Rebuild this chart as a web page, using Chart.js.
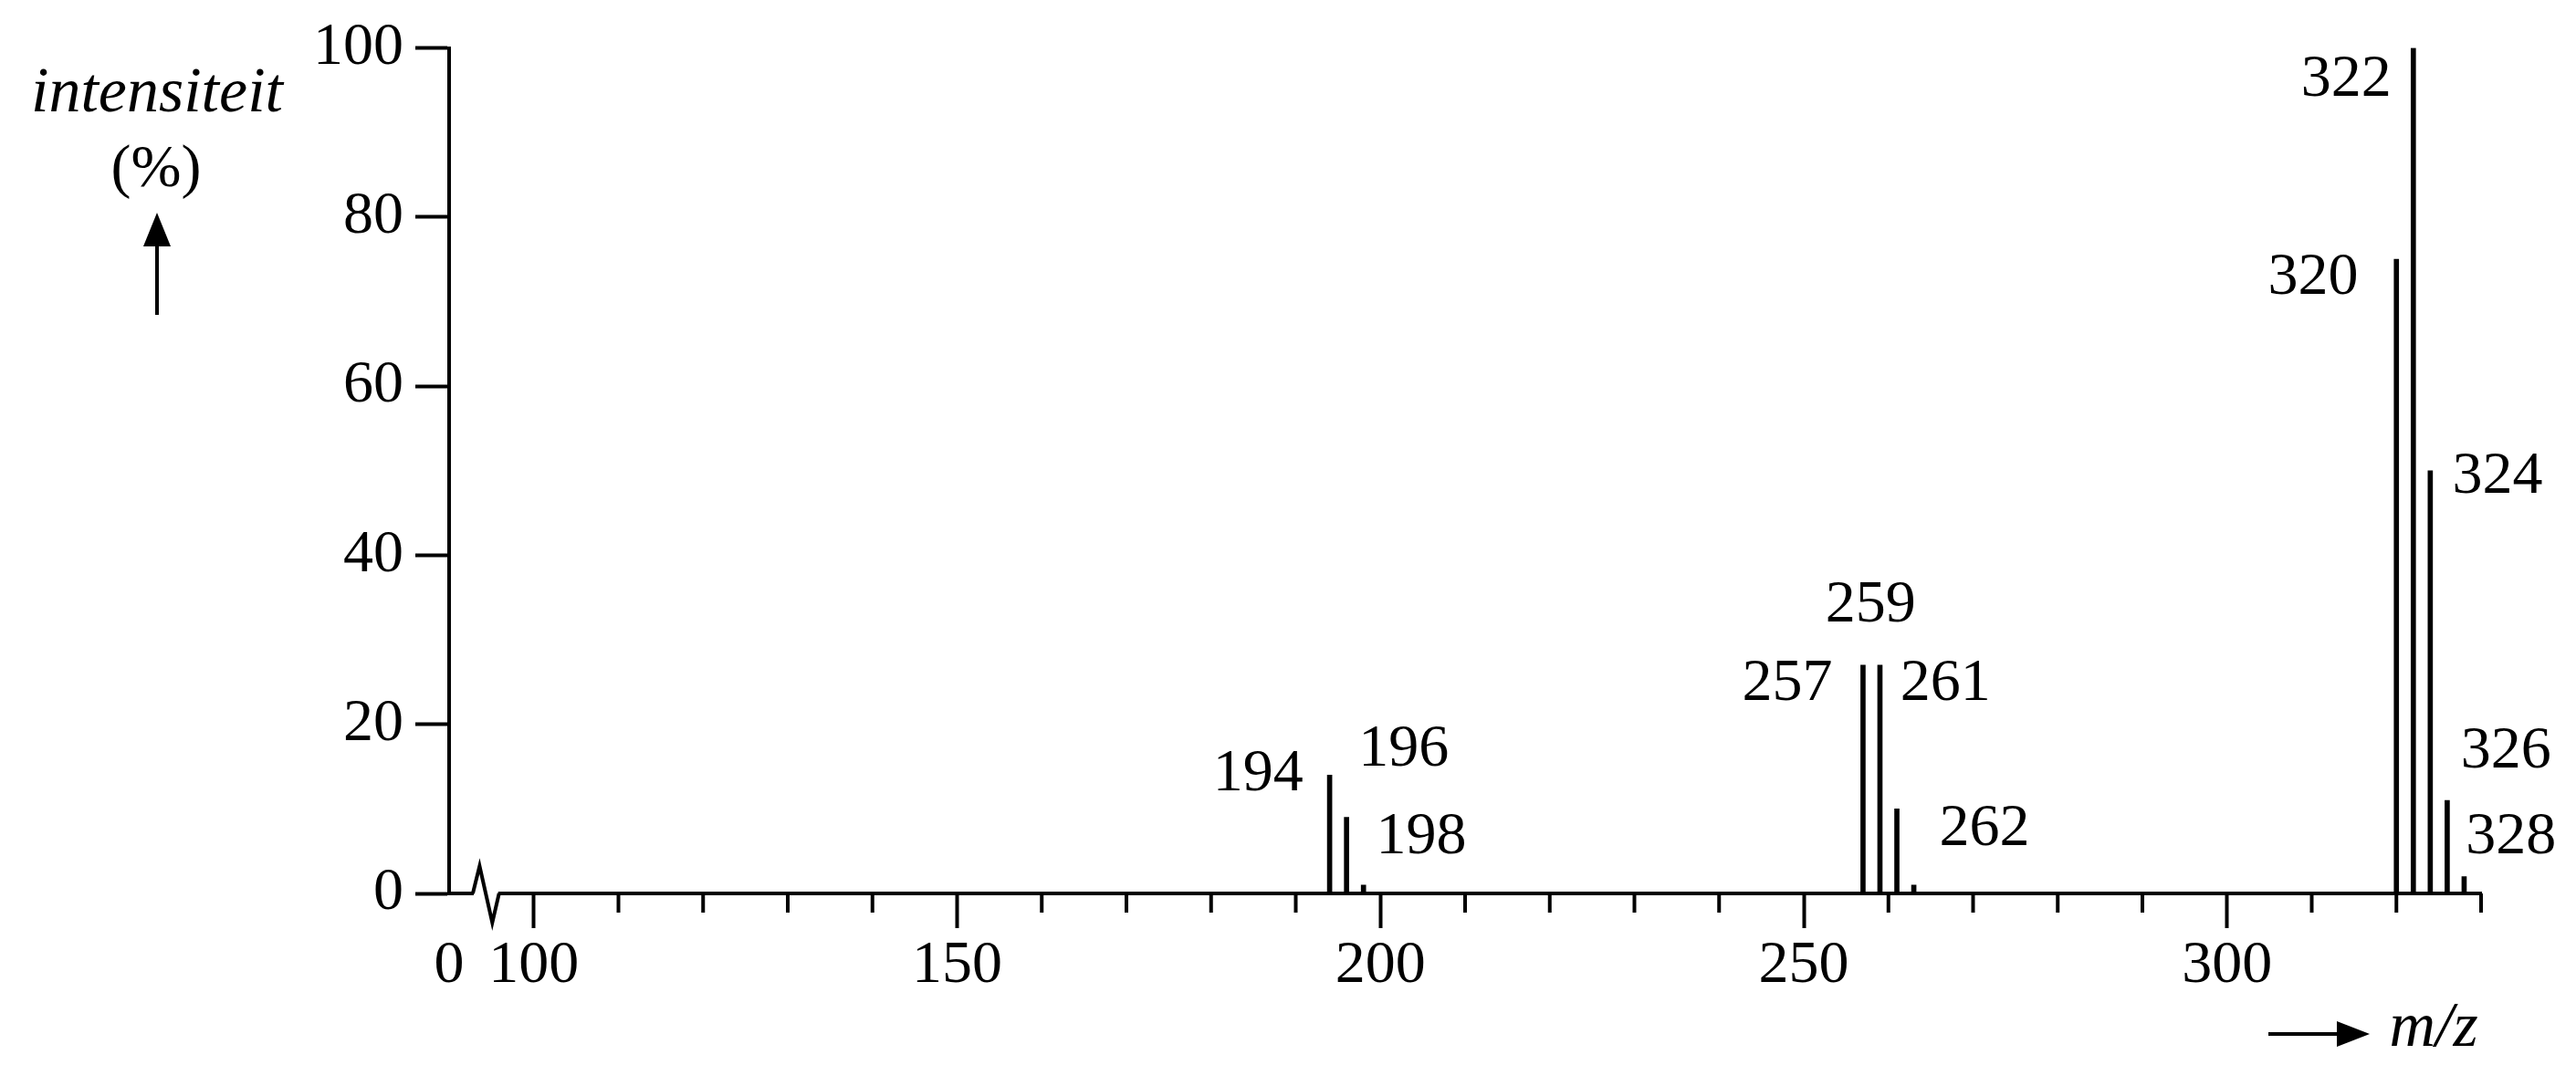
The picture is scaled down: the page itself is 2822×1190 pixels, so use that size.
<!DOCTYPE html>
<html>
<head>
<meta charset="utf-8">
<script src="https://cdn.jsdelivr.net/npm/chart.js@4/dist/chart.umd.min.js"></script>
<style>
  html, body { margin: 0; padding: 0; background: #fff; }
</style>
</head>
<body>
<canvas id="myChart" width="2822" height="1190"></canvas>
<script>
// peaks of the mass spectrum
var mz = [194, 196, 198, 257, 259, 261, 263, 320, 322, 324, 326, 328];
var intensity = [14, 9, 1, 27, 27, 10, 1, 75, 100, 50, 11, 2];
var peakLabels = ['194', '196', '198', '257', '259', '261', '262', '320', '322', '324', '326', '328'];
var xMajorTicks = [100, 150, 200, 250, 300];

var serif = "'Liberation Serif', 'Times New Roman', serif";

// where each peak label sits (in m/z and % units) and how it is aligned
var labelSpots = [
    {x: 190.9, y: 14.1, align: 'right'},
    {x: 197.4, y: 17.0, align: 'left'},
    {x: 199.5, y: 6.6, align: 'left'},
    {x: 253.4, y: 24.8, align: 'right'},
    {x: 257.9, y: 34.0, align: 'center'},
    {x: 261.4, y: 24.8, align: 'left'},
    {x: 266.0, y: 7.6, align: 'left'},
    {x: 315.5, y: 72.8, align: 'right'},
    {x: 319.4, y: 96.2, align: 'right'},
    {x: 326.6, y: 49.3, align: 'left'},
    {x: 327.6, y: 16.8, align: 'left'},
    {x: 328.2, y: 6.6, align: 'left'}
];

var decor = {
    id: 'decor',
    afterDraw: function(chart) {
        var c = chart.ctx;
        var xs = chart.scales.x, ys = chart.scales.y;
        var bottom = chart.chartArea.bottom;
        c.save();
        c.strokeStyle = '#000';
        c.fillStyle = '#000';

        // minor ticks every 10
        c.lineWidth = 4;
        for (var v = 110; v <= 330; v += 10) {
            if (xMajorTicks.indexOf(v) >= 0) continue;
            var px = xs.getPixelForValue(v);
            c.beginPath();
            c.moveTo(px, bottom);
            c.lineTo(px, bottom + 21);
            c.stroke();
        }

        // axis break
        var b0 = xs.getPixelForValue(92.8), b1 = xs.getPixelForValue(93.6);
        var b2 = xs.getPixelForValue(95.1), b3 = xs.getPixelForValue(95.9);
        c.fillStyle = '#fff';
        c.fillRect(b0 + 1, bottom - 4, b3 - b0 - 2, 8);
        c.fillStyle = '#000';
        c.lineWidth = 4;
        c.lineJoin = 'miter';
        c.beginPath();
        c.moveTo(b0, bottom);
        c.lineTo(b1, bottom - 30);
        c.lineTo(b2, bottom + 32);
        c.lineTo(b3, bottom);
        c.stroke();

        // peak labels
        c.font = '66px ' + serif;
        c.textBaseline = 'middle';
        peakLabels.forEach(function(t, i) {
            var s = labelSpots[i];
            c.textAlign = s.align;
            c.fillText(t, xs.getPixelForValue(s.x), ys.getPixelForValue(s.y));
        });

        // y title with arrow
        c.textAlign = 'center';
        c.font = 'italic 70px ' + serif;
        c.fillText('intensiteit', 172, 104);
        c.font = '66px ' + serif;
        c.fillText('(%)', 171, 187);
        c.lineWidth = 4;
        c.beginPath();
        c.moveTo(172, 345);
        c.lineTo(172, 262);
        c.stroke();
        c.beginPath();
        c.moveTo(172, 233);
        c.lineTo(157, 270);
        c.lineTo(187, 270);
        c.closePath();
        c.fill();

        // x title with arrow
        c.beginPath();
        c.moveTo(2485, 1133);
        c.lineTo(2565, 1133);
        c.stroke();
        c.beginPath();
        c.moveTo(2596, 1133);
        c.lineTo(2560, 1119);
        c.lineTo(2560, 1147);
        c.closePath();
        c.fill();
        c.font = 'italic 70px ' + serif;
        c.fillText('m/z', 2666, 1128);
        c.restore();
    }
};

var ctx = document.getElementById('myChart').getContext('2d');
var chart = new Chart(ctx, {
    type: 'bar',
    data: {
        datasets: [{
            data: mz.map(function(m, i) { return {x: m, y: intensity[i]}; }),
            backgroundColor: '#000',
            borderWidth: 0,
            barThickness: 5
        }]
    },
    options: {
        responsive: false,
        animation: false,
        layout: { padding: { top: 52, right: 104, left: 0, bottom: 0 } },
        plugins: {
            legend: { display: false },
            tooltip: { enabled: false }
        },
        scales: {
            x: {
                type: 'linear',
                offset: false,
                min: 90,
                max: 330,
                ticks: {
                    stepSize: 10,
                    autoSkip: false,
                    maxRotation: 0,
                    padding: 2,
                    color: '#000',
                    font: { family: serif, size: 66 },
                    callback: function(v) {
                        if (v === 90) return '0';
                        return xMajorTicks.indexOf(v) >= 0 ? String(v) : '';
                    }
                },
                grid: {
                    offset: false,
                    drawOnChartArea: false,
                    drawTicks: true,
                    tickLength: 38,
                    tickWidth: 4,
                    tickColor: function(c) {
                        return c.tick && xMajorTicks.indexOf(c.tick.value) >= 0 ? '#000' : 'rgba(0,0,0,0)';
                    }
                },
                border: { display: true, color: '#000', width: 4 },
                afterFit: function(s) { s.height = 211; }
            },
            y: {
                min: 0,
                max: 100,
                ticks: {
                    stepSize: 20,
                    padding: 13,
                    color: '#000',
                    font: { family: serif, size: 66 }
                },
                grid: {
                    drawOnChartArea: false,
                    tickLength: 37,
                    tickWidth: 4,
                    tickColor: '#000'
                },
                border: { display: true, color: '#000', width: 4 },
                afterFit: function(s) { s.width = 492; }
            }
        }
    },
    plugins: [decor]
});
</script>
</body>
</html>
